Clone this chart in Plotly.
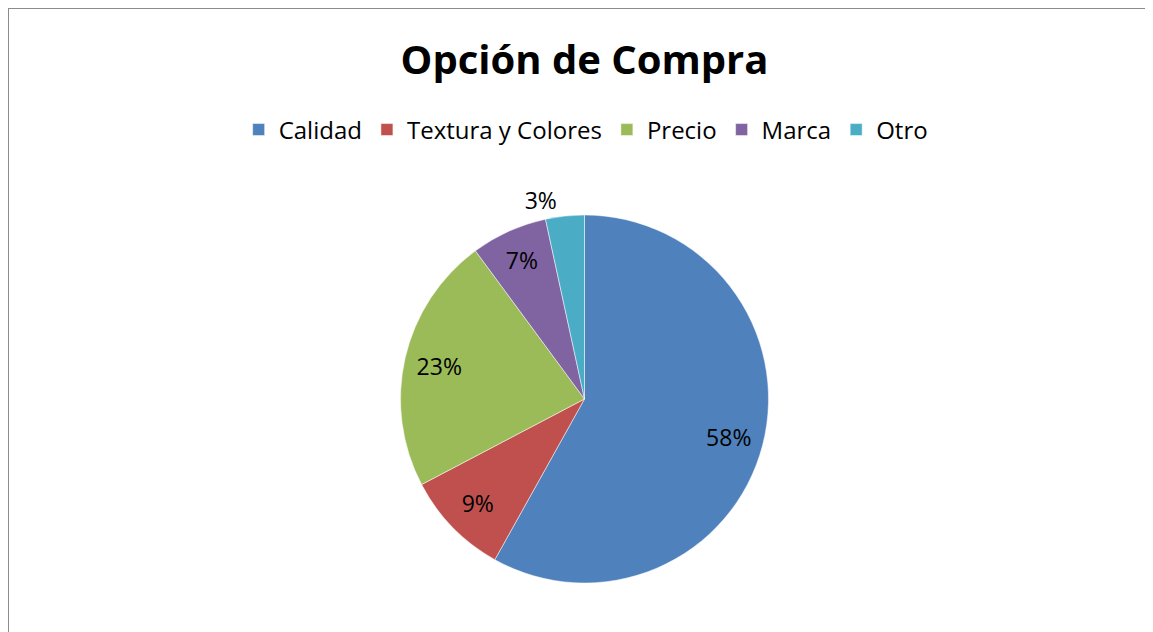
import plotly.graph_objects as go

# Opción de compra - share of respondents (%)
labels = ['Calidad', 'Textura y Colores', 'Precio', 'Marca', 'Otro']
values = [58.1, 9.2, 22.6, 6.7, 3.4]
colors = ['#4F81BD', '#C0504D', '#9BBB59', '#8064A2', '#4BACC6']
positions = ['inside', 'inside', 'inside', 'inside', 'outside']

FONT = 'Open Sans, sans-serif'
pie_domain = dict(x=[0, 1], y=[0.0902, 0.6725])

fig = go.Figure()
# the coloured pie
fig.add_trace(go.Pie(
    labels=labels,
    values=values,
    sort=False,
    direction='clockwise',
    rotation=0,
    domain=pie_domain,
    marker=dict(colors=colors, line=dict(color='white', width=0.5)),
    textinfo='none',
    hoverinfo='label+percent',
))
# transparent ring on top, only used to put the percent labels further out (like Excel)
fig.add_trace(go.Pie(
    labels=labels,
    values=values,
    sort=False,
    direction='clockwise',
    rotation=0,
    hole=0.62,
    domain=pie_domain,
    marker=dict(colors=['rgba(0,0,0,0)'] * len(labels), line=dict(width=0)),
    texttemplate='%{percent:.0%}',
    textposition=positions,
    insidetextorientation='horizontal',
    textfont=dict(family=FONT, size=23, color='black'),
    outsidetextfont=dict(family=FONT, size=23, color='black'),
    hoverinfo='skip',
    showlegend=False,
))

fig.update_layout(
    width=1153, height=632,
    paper_bgcolor='white',
    plot_bgcolor='white',
    margin=dict(l=0, r=0, t=0, b=0, autoexpand=False),
    title=dict(text='<b>Opción de Compra</b>', x=0.5, xanchor='center',
               y=0.918, yanchor='middle',
               font=dict(family=FONT, size=40, color='black')),
    legend=dict(orientation='h', x=0.501, xanchor='center', y=0.807, yanchor='middle',
                font=dict(family=FONT, size=24, color='black'),
                itemwidth=30, traceorder='normal'),
    showlegend=True,
    shapes=[dict(type='rect', xref='paper', yref='paper',
                 x0=0, x1=1.2, y0=-0.2, y1=1,
                 line=dict(color='#8c8c8c', width=2), layer='below')],
)

fig.write_html("out.html")
